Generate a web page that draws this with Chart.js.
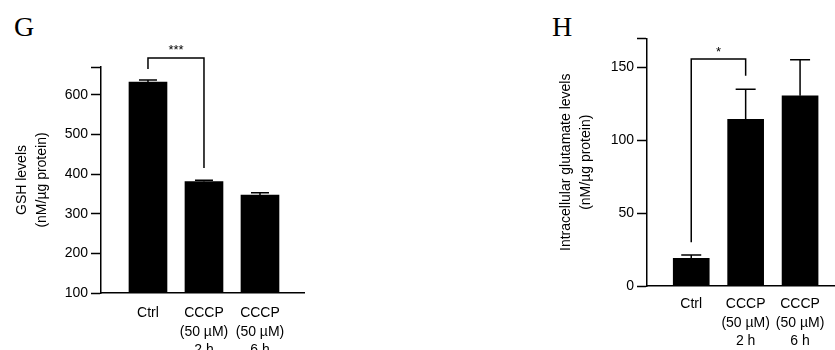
<!DOCTYPE html>
<html lang="en">
<head>
  <meta charset="UTF-8" />
  <title>GSH and glutamate levels</title>
  <script src="https://cdn.jsdelivr.net/npm/chart.js"></script>
  <style>
    html, body { margin: 0; padding: 0; background: #fff; }
    body { width: 835px; height: 350px; position: relative; overflow: hidden; }
    .panel { position: absolute; top: 0; height: 350px; }
    .letter { position: absolute; top: 13px; font-family: "Liberation Serif", "Times New Roman", serif; font-size: 28px; line-height: 28px; color: #000; }
  </style>
</head>
<body>

<div class="letter" style="left: 14px;">G</div>
<div class="letter" style="left: 552px;">H</div>
<div class="panel" style="left: 0; width: 320px;"><canvas id="gshChart"></canvas></div>
<div class="panel" style="left: 520px; width: 315px;"><canvas id="gluChart"></canvas></div>

<script>
  const categories = [['Ctrl'], ['CCCP', '(50 \u00b5M)', '2 h'], ['CCCP', '(50 \u00b5M)', '6 h']];
  const gshMean = [632, 381, 347];
  const gshErr = [5, 3.5, 6];
  const gluMean = [19, 114.5, 130.7];
  const gluErr = [2.3, 20.6, 24.7];

  const FONT = '"Liberation Sans", Arial, sans-serif';

  // upper error bars + significance bracket
  const extras = {
    id: 'extras',
    afterDraw(chart, args, opts) {
      const { ctx, scales: { x, y } } = chart;
      ctx.save();
      ctx.strokeStyle = '#000';
      ctx.lineWidth = 1.5;
      opts.mean.forEach((m, i) => {
        const px = x.getPixelForValue(i + 1);
        const top = y.getPixelForValue(m + opts.err[i]);
        ctx.beginPath();
        ctx.moveTo(px, y.getPixelForValue(m));
        ctx.lineTo(px, top);
        ctx.moveTo(px - opts.cap / 2, top);
        ctx.lineTo(px + opts.cap / 2, top);
        ctx.stroke();
      });
      const b = opts.bracket;
      const x1 = x.getPixelForValue(b.from), x2 = x.getPixelForValue(b.to);
      const yt = y.getPixelForValue(b.top);
      ctx.beginPath();
      ctx.moveTo(x1, y.getPixelForValue(b.leftEnd));
      ctx.lineTo(x1, yt);
      ctx.lineTo(x2, yt);
      ctx.lineTo(x2, y.getPixelForValue(b.rightEnd));
      ctx.stroke();
      ctx.fillStyle = '#000';
      ctx.font = '13px ' + FONT;
      ctx.textAlign = 'center';
      ctx.textBaseline = 'middle';
      ctx.fillText(b.label, (x1 + x2) / 2, yt - 7);
      ctx.restore();
    }
  };

  const makeChart = (id, cfg) => new Chart(document.getElementById(id), {
    type: 'bar',
    data: {
      datasets: [{
        data: cfg.mean.map((v, i) => ({ x: i + 1, y: v })),
        backgroundColor: '#000',
        barThickness: cfg.barWidth
      }]
    },
    options: {
      responsive: true,
      maintainAspectRatio: false,
      animation: false,
      layout: { padding: { left: 0, top: cfg.top, right: cfg.right, bottom: 0 } },
      plugins: {
        legend: { display: false },
        tooltip: { enabled: false },
        extras: { mean: cfg.mean, err: cfg.err, cap: cfg.cap, bracket: cfg.bracket }
      },
      scales: {
        x: {
          type: 'linear',
          offset: false,
          min: cfg.xMin,
          max: cfg.xMax,
          afterBuildTicks: s => { s.ticks = categories.map((c, i) => ({ value: i + 1 })); },
          afterFit: s => { s.height = cfg.xHeight; },
          grid: { display: false, offset: false },
          border: { color: '#000', width: 1.5 },
          ticks: {
            autoSkip: false,
            maxRotation: 0,
            padding: cfg.xPad,
            color: '#000',
            font: { family: FONT, size: 14, lineHeight: 1.3 },
            callback: v => categories[v - 1]
          }
        },
        y: {
          min: cfg.yMin,
          max: cfg.yMax,
          afterFit: s => { s.width = cfg.yWidth; },
          grid: { drawOnChartArea: false, tickLength: 10, tickColor: '#000', tickWidth: 1.5 },
          border: { color: '#000', width: 1.5 },
          ticks: {
            stepSize: cfg.step,
            padding: 3,
            color: '#000',
            font: { family: FONT, size: 14 },
            callback: v => (v % cfg.step === 0 ? v : '')
          },
          title: {
            display: true,
            text: cfg.title,
            color: '#000',
            font: { family: FONT, size: 14, lineHeight: 1.45 },
            padding: { top: cfg.titlePad, bottom: 0 }
          }
        }
      }
    },
    plugins: [extras]
  });

  makeChart('gshChart', {
    mean: gshMean, err: gshErr, cap: 18, barWidth: 38,
    top: 67, right: 16, xHeight: 57, yWidth: 101, xPad: 3.5, titlePad: 12,
    xMin: 0.161, xMax: 3.786, yMin: 100, yMax: 670, step: 100,
    title: ['GSH levels', '(nM/\u00b5g protein)'],
    bracket: { from: 1, to: 2, top: 693, leftEnd: 665, rightEnd: 415, label: '***' }
  });

  makeChart('gluChart', {
    mean: gluMean, err: gluErr, cap: 20, barWidth: 36,
    top: 38.5, right: 0, xHeight: 64, yWidth: 127, xPad: 1.5, titlePad: 36,
    xMin: 0.187, xMax: 3.642, yMin: 0, yMax: 170, step: 50,
    title: ['Intracellular glutamate levels', '(nM/\u00b5g protein)'],
    bracket: { from: 1, to: 2, top: 155.9, leftEnd: 30, rightEnd: 144.4, label: '*' }
  });
</script>
</body>
</html>
